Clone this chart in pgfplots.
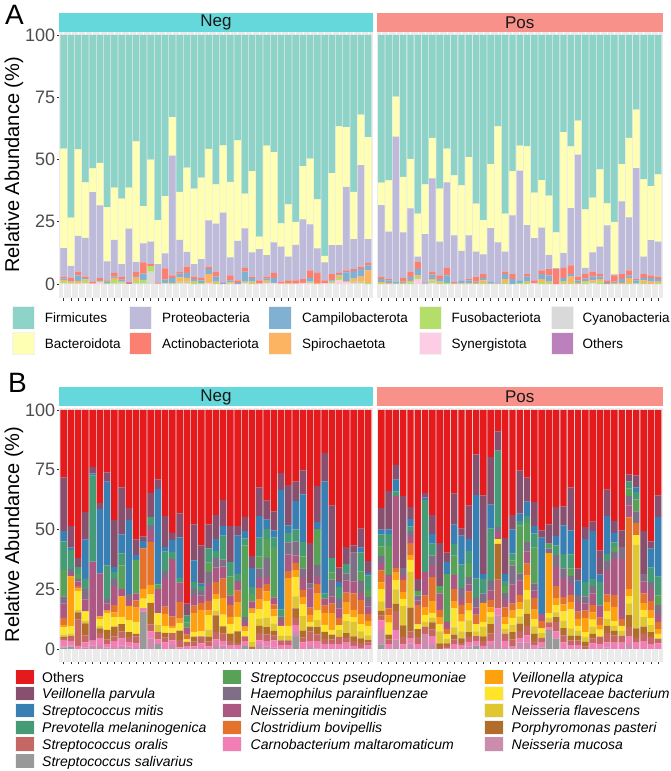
\documentclass[border=0pt]{standalone}
\usepackage{pgfplots}
\pgfplotsset{compat=1.18}
\usepackage{pgfplotstable}
\usepackage{fontspec}
\setmainfont{Liberation Sans}
% panel A (Set3)
\definecolor{aFir}{HTML}{8DD3C7}\definecolor{aBac}{HTML}{FFFFB3}\definecolor{aPro}{HTML}{BEBADA}
\definecolor{aAct}{HTML}{FB8072}\definecolor{aCam}{HTML}{80B1D3}\definecolor{aSpi}{HTML}{FDB462}
\definecolor{aFus}{HTML}{B3DE69}\definecolor{aSyn}{HTML}{FCCDE5}\definecolor{aCya}{HTML}{D9D9D9}
\definecolor{aOth}{HTML}{BC80BD}
% panel B
\definecolor{bOth}{HTML}{E41A1C}\definecolor{bVP}{HTML}{884F6F}\definecolor{bSM}{HTML}{387FB4}
\definecolor{bPM}{HTML}{449B76}\definecolor{bSP}{HTML}{57A256}\definecolor{bHP}{HTML}{7F6E85}
\definecolor{bNM}{HTML}{AD5882}\definecolor{bCB}{HTML}{E4722B}\definecolor{bVA}{HTML}{FFA10E}
\definecolor{bPB}{HTML}{FFE529}\definecolor{bNF}{HTML}{E1C72F}\definecolor{bPP}{HTML}{B26D2A}
\definecolor{bSO}{HTML}{C66764}\definecolor{bCM}{HTML}{F27EB5}\definecolor{bNMu}{HTML}{CB8CAD}
\definecolor{bSS}{HTML}{999999}
\definecolor{panelbg}{HTML}{EBEBEB}\definecolor{tickgrey}{HTML}{333333}\definecolor{labgrey}{HTML}{4D4D4D}
\definecolor{stripNeg}{HTML}{65D8DC}\definecolor{stripPos}{HTML}{F8918A}\definecolor{keybg}{HTML}{F2F2F2}

\pgfplotstableread{
x Oth Cya Syn Fus Spi Cam Act Pro Bac Fir
1 0 0 0.3 1.0 0.3 0.6 0.8 11.4 40.0 45.6
2 0 0 0.2 0.2 0.6 0.3 1.2 4.8 19.4 73.3
3 0 0 0.2 0.3 0.8 2.2 1.5 14.3 34.8 45.9
4 0 0 0.3 1.0 0.6 0.5 0.6 15.5 22.3 59.2
5 0 0 0.2 0 0 0 0.8 35.9 9.5 53.6
6 0 0 0.8 0 0.5 0.4 0.8 29.1 17.1 51.3
7 0 0 0 0.4 0 0.7 0.4 7.6 21.8 69.1
8 0 0 0.2 1.5 0.8 0.5 1.5 13.2 21.0 61.3
9 0 0 0.2 0.5 0.3 0.8 1.2 5.0 26.3 65.7
10 0.5 0 0 0 0 0 0.5 21.3 16.4 61.3
11 0 0 0.2 1.0 1.6 0.4 1.8 3.9 48.4 42.7
12 0 0 0.2 1.5 0 2.5 4.5 7.6 15.0 68.7
13 0 5.0 0 2.2 0 0 0.8 9.0 33.0 50.0
14 0 0 0 0 0.2 0 0.3 7.5 17.7 74.3
15 0 0 0.2 0.3 0 1.3 4.5 6.0 23.0 64.7
16 0 0 0 0.2 0.3 2.0 1.0 48.1 15.4 33.0
17 0 0 0.5 0.5 1.7 1.5 0.8 12.7 19.3 63.0
18 0 0 0.4 0.6 1.5 2.0 2.5 5.9 33.8 53.3
19 0 0 0 0.5 0.5 1.0 1.0 5.0 30.3 61.7
20 0 0 0 0.5 0 1.0 1.0 7.5 32.7 57.3
21 0 0 0.5 0 3.5 2.0 1.0 18.6 28.7 45.7
22 0 0 0 0.5 0.5 2.0 2.0 19.3 15.7 60.0
23 0 0 0 0 0 0.6 0.4 27.7 27.0 44.3
24 0 0 0 0.2 0.5 0.8 2.0 7.2 30.3 59.0
25 0 0 0 0 0 0.5 1.0 15.8 40.4 42.3
26 0 0 0.4 0.6 0 4.0 1.5 15.9 13.9 63.7
27 0 0 0 0.4 0.6 1.5 0.5 9.7 32.6 54.7
28 0 0 0.2 0 0 0 1.3 12.5 5.0 81.0
29 0 0 0.4 0.5 0.5 0.8 0.8 8.6 44.0 44.4
30 0 0 0.5 0 0 2.0 2.0 12.2 36.3 47.0
31 0 0 0.2 0 0 0 0.8 14.0 9.4 75.6
32 0 0 0 0.3 0 0 1.2 9.5 21.0 68.0
33 0 0 0.2 0 0 0 1.3 14.2 9.3 75.0
34 0 0 0.5 0 0 0 1.5 24.0 21.3 52.7
35 0 0 0.4 0.6 0 1.5 3.0 18.5 26.4 49.6
36 0 0 0 0 0.5 0 4.0 9.8 19.7 66.0
37 0 0 0.3 0 0 0 1.2 7.2 2.6 88.7
38 0 0 0.3 0.7 0 0.5 2.5 11.6 28.9 55.5
39 0 0 1.5 1.0 1.0 0.5 0.5 11.1 47.7 36.7
40 0 0 0.7 0 0.5 3.5 0.8 33.5 24.0 37.0
41 0 0 0.5 0.5 1.2 3.0 0.8 12.0 19.0 63.0
42 0 0 0.5 0.5 2.0 3.0 1.0 40.7 20.3 32.0
43 0 0 0 0.5 5.0 2.0 1.0 9.5 41.0 41.0
}\ANeg

\pgfplotstableread{
x Oth Cya Syn Fus Spi Cam Act Pro Bac Fir
1 0 0 0 0.4 0.4 1.2 1.0 28.7 9.0 59.3
2 0 0 0 0 0.5 1.0 0.5 19.0 20.6 58.4
3 0 0 0 0.2 0 0.8 0 58.2 16.0 24.8
4 0 0 0 0 0.5 0.5 1.5 18.2 22.3 57.0
5 0 0 0 0.7 0.6 1.5 2.2 25.4 19.9 49.7
6 0 0 2.0 0.8 0.7 2.5 3.0 2.0 17.3 71.7
7 0 0 0 0 0.2 0.5 0.3 19.0 20.0 60.0
8 0 0 0.4 1.0 0.6 1.8 1.2 37.4 16.3 41.3
9 0 0 0 0.4 0.6 1.0 1.5 13.5 21.3 61.7
10 0 0 0 0.5 0 3.0 3.0 34.3 13.6 45.6
11 0 0 0 0 0.2 0.3 0.5 18.5 24.1 56.4
12 0 0 0 0 0.3 1.2 0 11.8 26.3 60.4
13 0 0 0 0 0.3 1.2 0.5 17.5 31.5 49.0
14 0 0 0 0 0.5 0.5 2.0 10.0 19.3 67.7
15 0 0 0 0.5 1.0 1.0 1.5 7.9 13.8 74.3
16 0 0 0 0 0.2 0.8 0 21.5 25.6 51.9
17 0 0 0 0.2 0 0.3 0 16.2 46.6 36.7
18 0 0 0 0.5 1.5 2.0 1.0 8.0 15.3 71.7
19 0 0 0 0 0 2.0 2.0 23.6 17.7 54.7
20 0 0 0 0.5 0 1.0 0 44.0 10.1 44.4
21 0 0 0 0.5 0.5 2.0 1.0 19.7 31.6 44.7
22 0 0 0.3 0 0 0 1.2 16.9 18.3 63.3
23 0 0 0 0.8 1.2 2.0 1.5 17.2 19.0 58.3
24 0 0 0 0.5 0.5 2.5 2.5 5.7 23.8 64.5
25 0 0 0 0 0 0 6.0 0.4 14.3 79.3
26 0 0 0 0.5 0.5 1.5 4.0 5.9 48.6 39.0
27 0 0 0 0.5 2.5 1.0 3.5 23.0 24.8 44.7
28 0 0 0 0 0.5 1.0 1.5 49.0 13.6 34.4
29 0 0 0 0.6 0.6 1.0 1.8 2.5 23.5 70.0
30 0 0 0.3 0.5 0.7 1.5 2.0 7.7 22.0 65.3
31 0 0 0 1.0 1.0 1.0 1.0 11.0 31.0 54.0
32 0 0 0 0 0 0.5 1.0 22.1 8.8 67.6
33 0 0 0 0 0.5 0.5 2.5 0.4 21.1 75.0
34 0 0 0 0 0.5 1.5 2.0 29.2 14.9 51.9
35 0 0 0 0.5 2.0 1.0 2.0 21.3 31.9 41.3
36 0 0 0 0.3 0 1.2 0.5 44.5 23.5 30.0
37 0 0 0 0.5 1.0 1.0 1.5 7.0 31.0 58.0
38 0 0 0 0 1.0 1.5 1.0 14.1 21.7 60.7
39 0 0 0 0.5 0.5 1.0 1.0 14.0 27.0 56.0
}\APos

\pgfplotstableread{
x Oth VP SM PM SP HP NM CB VA PB NF PP SO CM NMu SS
1 28.3 22.4 4.3 12 11 3 6 3 1 3 1 0.5 1 2.5 0.5 0.5
2 48.6 9 1 8 0 2 1 0 21 3 1 0 2 2 0.4 1
3 61.9 3.8 0 3 2 1 2 1 1 8 1 3 11 1.3 0 0
4 42.6 11.7 16.4 4.3 0 4.3 5 0 0 4 1 5 3 2 0.7 0
5 23.9 2.6 1 36 0 0 33 0 0 0 0 0 0 2 1.5 0
6 39 2.4 27 0 0 0 18 0 1 3 1 2 2 3 1.6 0
7 26.1 3.9 35 14 0 2 3 0 1 7 0 4 2 1.5 0.5 0
8 46 19.7 2 3 0 3 8 3 2 4 0 4 2 3 0.3 0
9 32.4 19.7 7.9 5 10 0 3 0 8.6 3 0 3 3 3 1.4 0
10 41 5 31 0 0 2 3 0 6 5 0 2 2 2 1 0
11 54.3 6.4 2 0 14 0 3 3 6 5 0 1 3 2 0.3 0
12 52.9 2 3 0 0 0 0 17 4 4 0 0 0 1.5 0 15.6
13 34.7 10 0 3.5 0 2 5 18 4 3.5 0 9 3 3 4.3 0
14 29 4 40 0 2 0 10 0 0 5 3 0 3 2 0 2
15 44.3 13 2 8 0 3 12 3 5 3 0 2 2 2.7 0 0
16 51.4 3 5 3 0 0 24 4 1 2 0 0 3 2 1.6 0
17 43.3 10 17 2 0 0 8 7 2 3 0 4 3 0.7 0 0
18 81 5 0 3 2 0 3 2 0 1 0 0 2 1 0 0
19 47.9 15 9 3 0 3 4 3 8 2 0 2 2 1.1 0 0
20 56.7 16 1 2 0 2 3 3 9 2 0 0 3 2 0.3 0
21 47.9 10 0 6 4 5 7 4 2 6 3 2 2 1.1 0 0
22 44 10 5 3 0 4 6 5 2 5 2 7 3 2 2 0
23 37.6 11 4 10 0 3 5 8 7 5 0 3 3 2 1.4 0
24 48.6 15 0 6 8 0 4 5 3 4 0 3 2 1.4 0 0
25 48.6 4 16 3 0 0 4 5 6 6 0 5 1 1.4 0 0
26 44.7 6 3 3 30 2 2 0 2 2 0 0 2 2 0 1.3
27 61.1 5 8 3 3 0 3 0 2 12 2 0 0.9 0 0 0
28 32.4 12 9 8 5 4 4 5 4 4 3 3 3 1.6 2 0
29 37.9 8 4 4 8 8 3 3 4 7 4 3 3 2 1.1 0
30 42.4 8 3 4 21 0 3 2 3 3 3 2 2 3 0.6 0
31 26.4 7 50 3 0 2 2 0 0 4 2 0 2 1.6 0 0
32 31.4 17 3 4 0 5 7 3 20 4 2 0 2 1.6 0 0
33 30 8 12 5 0 6 3 3 3 8 5 4 3 3 2 5
34 25.3 10 20 6 5 4 5 3 3 5 6 3 2 2.7 0 0
35 55.7 17 0 0 0 2 8 3 3 2 0 2 4 2 1.3 0
36 31.9 15 3 0 15 5 3 4 7 4 3 3 3 3 0.1 0
37 17.9 12 47 2 0 0 3 3 5 3 0 3 2 2.1 0 0
38 40 22 0 6 3 7 3 4 7 2 0 2 2 2 0 0
39 66 6 2 5 0 4 4 3 0 2 3 0 3 2 0 0
40 57.4 7 0 4 0 3 5 4 5 3 5 2 2 2.6 0 0
41 56.7 3 0 0 0 12 5 7 3 2 6 2 2 1.3 0 0
42 49.6 8 2 8 4 5 3 6 4 3 3 2 2 0.4 0 0
43 63.3 5 1 6 3 4 3 3 2 4 2 1 1 1.7 0 0
}\BNeg

\pgfplotstableread{
x Oth VP SM PM SP HP NM CB VA PB NF PP SO CM NMu SS
1 41.1 9 2 5 4 3 3 5 3 5 4 2 2 4 6 1.9
2 34 16 2 5 12 0 14 3 3 5 0 2 2 2 0 0
3 23.1 6 5 2 0 0 30 2 3 4 6 3 8 4 3.9 0
4 36.1 30 0 0 0 3 2 5 3 3 8 5 3 1.9 0 0
5 40.7 5 3 2 0 2 3 5 2 5 15 10 3 2 2.3 0
6 70.7 5 0 0 2 2 2 8 0 2 0 3.3 3 2 0 0
7 34.7 2 1 30 0 0 10 5 3 3 2 0 3 0 6.3 0
8 43.9 8 4 5 0 4 5 10 5 2 2 3 3 3 2.1 0
9 55.7 18 0 0 3 0 7 3 3 3 5 2 0.3 0 0 0
10 59.7 4 5 0 20 0 3 2 0 2 2 1 1 0.3 0 0
11 35 13 8 5 8 0 6 5 3 8 3 2 2 2 0 0
12 49.6 3 12 10 0 4 3 4 3 4 3 2 1 1.4 0 0
13 40 14 5 5 6 3 3 5 3 4 5 2 2 2 1 0
14 18.6 17 35 8 0 4 3 4 0 3 2 0 2 2 0 1.4
15 35.7 33 2 6 0 4 0 0 8 2 4 2 2 1.3 0 0
16 19.6 20 10 22 0 4 4 3 2 2 3 4 3 1.4 2 0
17 9 8 0 32 0 2 3 0 0 2 0 15 12 3 14 0
18 53.6 15 3 2 3 3 3 4 3 2 2 0 3 3 0.4 0
19 44 6 10 3 2 8 8 3 3 3 3 3 3 1 0 0
20 25.4 18 3 2 20 3 6 3 3 3 3 3 3 2 2.6 0
21 28.3 10 6 3 8 4 5 5 6 4 6 5 4 3 2.7 0
22 38.6 10 3 6 15 3 3 5 4 3 3 3 2 1.4 0 0
23 50.4 3 32 0 0 0 3 3 0 2 2 0 2 2 0 0.6
24 47.9 8 0 0 2 2 0 0 25 2 2 0 2 1.1 0 8
25 40.7 12 4 4 0 5 8 5 3 3 2 2 4 3 0 4.3
26 40.3 8 12 6 0 4 8 3 3 4 3 3 3 2.7 0 0
27 32.4 18 10 6 3 3 5 3 3 8 3 2 2 1.6 0 0
28 66.4 5 6 0 0 3 4 3 3 2 2 2 2 1.6 0 0
29 49 5 18 6 0 3 3 3 6 2 2 2 1 0 0 0
30 46.7 4 20 3 0 3 5 3 3 3 3 2 2 2.3 0 0
31 58.9 10 3 10 0 0 5 3 2 3 0 0 3 2.1 0 0
32 33.3 11 16 3 0 4 10 3 4 3 3 3 4 2 0.7 0
33 46.4 5 4 2 2 3 15 5 6 2 2 2 3 2.6 0 0
34 50.4 7 0 0 0 5 25 3 0 2 2 0 3 2.6 0 0
35 26.9 3 0 3 3 4 5 30 3 3 5 5 4 3 2.1 0
36 27.4 5 2 3 5 5 0 5 0 4 35 4 2 2.6 0 0
37 50.7 18 0 0 0 3 5 4 3 3 4 3 3 3.3 0 0
38 55 3 8 6 0 3 5 4 3 3 3 2 3 2 0 0
39 35.7 9 25 8 4 4 3 3 2 2 0 0 2 2.3 0 0
}\BPos

\pgfplotsset{
  facet/.style={
    scale only axis, ybar stacked, bar width=0.88,
    enlargelimits=false, xmin=0.4, ymax=101,
    axis background/.style={fill=panelbg},
    axis line style={draw=none},
    xmajorgrids, major grid style={draw=white, line width=0.55pt},
    xtick pos=bottom, ytick pos=left,
    tick align=outside, major tick length=2.75pt,
    tick style={draw=tickgrey, line width=0.6pt},
    xticklabels={},
  },
  negy/.style={ytick={0,25,50,75,100},
    yticklabel style={font=\fontsize{18}{18}\selectfont, text=labgrey, inner sep=1.2pt},
    /pgf/number format/assume math mode=true},
  posy/.style={ytick=\empty},
}

\newcommand\Aplots[1]{%
\addplot[fill=aOth,draw=none] table[x=x,y=Oth]{#1};
\addplot[fill=aCya,draw=none] table[x=x,y=Cya]{#1};
\addplot[fill=aSyn,draw=none] table[x=x,y=Syn]{#1};
\addplot[fill=aFus,draw=none] table[x=x,y=Fus]{#1};
\addplot[fill=aSpi,draw=none] table[x=x,y=Spi]{#1};
\addplot[fill=aCam,draw=none] table[x=x,y=Cam]{#1};
\addplot[fill=aAct,draw=none] table[x=x,y=Act]{#1};
\addplot[fill=aPro,draw=none] table[x=x,y=Pro]{#1};
\addplot[fill=aBac,draw=none] table[x=x,y=Bac]{#1};
\addplot[fill=aFir,draw=none] table[x=x,y=Fir]{#1};
}
\newcommand\Bplots[1]{%
\addplot[fill=bSS,draw=none] table[x=x,y=SS]{#1};
\addplot[fill=bNMu,draw=none] table[x=x,y=NMu]{#1};
\addplot[fill=bCM,draw=none] table[x=x,y=CM]{#1};
\addplot[fill=bSO,draw=none] table[x=x,y=SO]{#1};
\addplot[fill=bPP,draw=none] table[x=x,y=PP]{#1};
\addplot[fill=bNF,draw=none] table[x=x,y=NF]{#1};
\addplot[fill=bPB,draw=none] table[x=x,y=PB]{#1};
\addplot[fill=bVA,draw=none] table[x=x,y=VA]{#1};
\addplot[fill=bCB,draw=none] table[x=x,y=CB]{#1};
\addplot[fill=bNM,draw=none] table[x=x,y=NM]{#1};
\addplot[fill=bHP,draw=none] table[x=x,y=HP]{#1};
\addplot[fill=bSP,draw=none] table[x=x,y=SP]{#1};
\addplot[fill=bPM,draw=none] table[x=x,y=PM]{#1};
\addplot[fill=bSM,draw=none] table[x=x,y=SM]{#1};
\addplot[fill=bVP,draw=none] table[x=x,y=VP]{#1};
\addplot[fill=bOth,draw=none] table[x=x,y=Oth]{#1};
}

\begin{document}
\begin{tikzpicture}[x=1pt,y=1pt]
\path[use as bounding box] (0,0) rectangle (671,771);

% ---------- Panel A ----------
\begin{axis}[facet, negy, at={(59.3pt,473pt)}, anchor=south west,
  width=313.2pt, height=265.5pt, xmax=43.6, ymin=-5.6, xtick={1,...,43}]
\Aplots{\ANeg}
\end{axis}
\begin{axis}[facet, posy, at={(377pt,473pt)}, anchor=south west,
  width=285.5pt, height=265.5pt, xmax=39.6, ymin=-5.6, xtick={1,...,39}]
\Aplots{\APos}
\end{axis}

% ---------- Panel B ----------
\begin{axis}[facet, negy, at={(59.3pt,109.4pt)}, anchor=south west,
  width=313.2pt, height=254pt, xmax=43.6, ymin=-5.3, xtick={1,...,43}]
\Bplots{\BNeg}
\end{axis}
\begin{axis}[facet, posy, at={(377pt,109.4pt)}, anchor=south west,
  width=285.5pt, height=254pt, xmax=39.6, ymin=-5.3, xtick={1,...,39}]
\Bplots{\BPos}
\end{axis}

% strips
\fill[stripNeg] (59.3,739) rectangle (372.5,758);
\fill[stripPos] (377,739) rectangle (662.5,758);
\node[font=\fontsize{17}{17}\selectfont, text=black!90] at (215.9,748.5) {Neg};
\node[font=\fontsize{17}{17}\selectfont, text=black!90] at (519.75,748.5) {Pos};
\fill[stripNeg] (59.3,364.5) rectangle (372.5,383.5);
\fill[stripPos] (377,364.5) rectangle (662.5,383.5);
\node[font=\fontsize{17}{17}\selectfont, text=black!90] at (215.9,374) {Neg};
\node[font=\fontsize{17}{17}\selectfont, text=black!90] at (519.75,374) {Pos};

% y titles
\node[rotate=90, font=\fontsize{20}{20}\selectfont] at (14,606) {Relative Abundance (\%)};
\node[rotate=90, font=\fontsize{20}{20}\selectfont] at (14,236.5) {Relative Abundance (\%)};

% panel tags
\node[font=\fontsize{28}{28}\selectfont] at (14.5,756) {A};
\node[font=\fontsize{28}{28}\selectfont] at (17.5,388) {B};

% legend A
\foreach \kx/\tx/\ca/\la/\cb/\lb in {11.7/44.6/aFir/Firmicutes/aBac/Bacteroidota,
  129/162/aPro/Proteobacteria/aAct/Actinobacteriota,
  268.5/302/aCam/Campilobacterota/aSpi/Spirochaetota,
  419/451.5/aFus/Fusobacteriota/aSyn/Synergistota,
  551/582.5/aCya/Cyanobacteria/aOth/Others}{
  \fill[keybg] (\kx,441.5) rectangle ++(23,23);
  \fill[\ca] (\kx+0.8,442.3) rectangle ++(21.4,21.4);
  \node[anchor=base west, inner sep=0, font=\fontsize{13.5}{13.5}\selectfont] at (\tx,448) {\la};
  \fill[keybg] (\kx,416) rectangle ++(23,23);
  \fill[\cb] (\kx+0.8,416.8) rectangle ++(21.4,21.4);
  \node[anchor=base west, inner sep=0, font=\fontsize{13.5}{13.5}\selectfont] at (\tx,422.5) {\lb};
}

% legend B
\foreach \kx/\tx/\row/\col/\lab in {
  15/42/0/bOth/{\upshape Others},
  15/42/1/bVP/Veillonella parvula,
  15/42/2/bSM/Streptococcus mitis,
  15/42/3/bPM/Prevotella melaninogenica,
  15/42/4/bSO/Streptococcus oralis,
  15/42/5/bSS/Streptococcus salivarius,
  222/250.5/0/bSP/Streptococcus pseudopneumoniae,
  222/250.5/1/bHP/Haemophilus parainfluenzae,
  222/250.5/2/bNM/Neisseria meningitidis,
  222/250.5/3/bCB/Clostridium bovipellis,
  222/250.5/4/bCM/Carnobacterium maltaromaticum,
  484/511.5/0/bVA/Veillonella atypica,
  484/511.5/1/bPB/Prevotellaceae bacterium,
  484/511.5/2/bNF/Neisseria flavescens,
  484/511.5/3/bPP/Porphyromonas pasteri,
  484/511.5/4/bNMu/Neisseria mucosa}{
  \pgfmathsetmacro\yc{94-16.8*\row}
  \fill[keybg] (\kx,\yc-7.4) rectangle ++(19.5,14.8);
  \fill[\col] (\kx+0.7,\yc-6.7) rectangle ++(18.1,13.4);
  \node[anchor=base west, inner sep=0, font=\fontsize{14}{14}\selectfont\itshape] at (\tx,\yc-5.1) {\lab};
}
\end{tikzpicture}
\end{document}
